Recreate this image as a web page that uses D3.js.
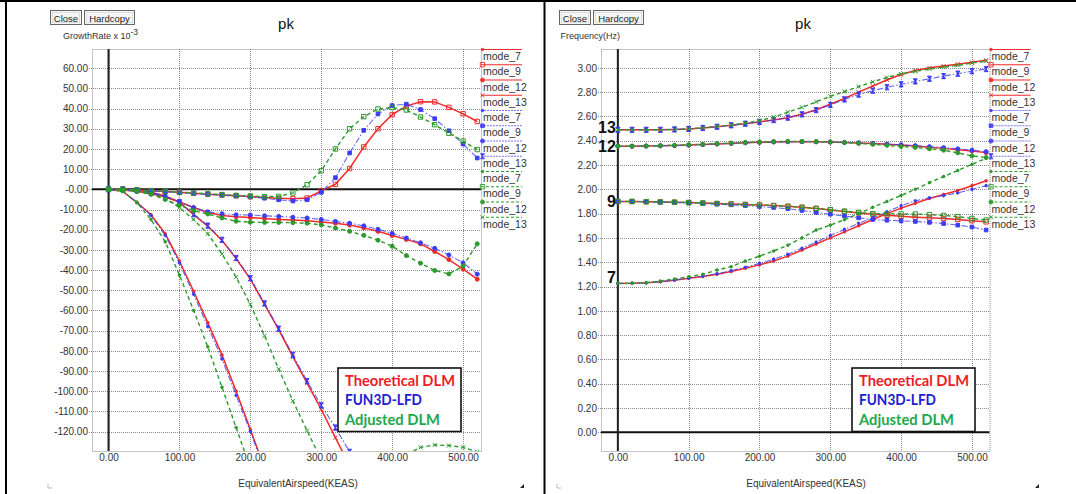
<!DOCTYPE html>
<html>
<head>
<meta charset="utf-8">
<script src="https://cdn.jsdelivr.net/npm/d3@7"></script>
<style>
  html, body { margin: 0; padding: 0; background: #fff; }
  svg { display: block; font-family: "Liberation Sans", Arial, sans-serif; }
</style>
</head>
<body>
<div id="chart"></div>
<script>
// equivalent airspeed of every computed point (KEAS)
const speeds = [0, 20, 40, 60, 80, 100, 120, 140, 160, 180, 200, 220, 240, 260,
  280, 300, 320, 340, 360, 380, 400, 420, 440, 460, 480, 500, 520];

// growth rate x 1e-3 (null = off the bottom of the plot)
const growthTheo7 = [0, -1, -6.4, -12.6, -22, -35.5, -50.5, -66, -82, -100, -119, -138, -157,
  null, null, null, null, null, null, null, null, null, null, null, null, null, null];
const growthTheo9 = [0, 0, -0.3, -0.7, -1.1, -1.5, -2.0, -2.4, -2.8, -3.2, -3.6, -4.0, -4.4, -4.7,
  -4.3, -0.8, 2.5, 10.3, 21, 30, 37, 41.2, 43.4, 43.3, 40.6, 37.4, 33.6];
const growthTheo12 = [0, -0.3, -1, -2.2, -3.8, -6.3, -9, -11.5, -13, -13.6, -14, -14.5, -14.9, -15.2,
  -15.6, -16.2, -16.8, -17.7, -19.1, -20.8, -22.9, -24.8, -27, -30.8, -34.8, -39.5, -44.5];
const growthTheo13 = [0, 0, -0.5, -1.5, -3.3, -6.3, -12.5, -18.2, -25.3, -34.3, -44.5, -57, -69.5,
  -83, -96, -109, -123, -137, -151, null, null, null, null, null, null, null, null];

const growthFun7 = [0, -1, -6.6, -13, -22.8, -36.5, -52, -68, -84, -102, -120, -139, -158,
  null, null, null, null, null, null, null, null, null, null, null, null, null, null];
const growthFun9 = [0, 0, -0.3, -0.8, -1.2, -1.7, -2.1, -2.5, -2.9, -3.3, -3.8, -4.4, -5.2, -5.8,
  -5.2, -1.5, 5.8, 18, 29.2, 37.3, 41.5, 42.2, 39.5, 35, 29, 22.4, 15.5];
const growthFun12 = [0, -0.3, -1, -2.1, -3.6, -6.1, -9.1, -11.1, -12.1, -12.6, -12.7, -13.1, -13.4,
  -13.8, -14.2, -14.9, -15.9, -16.8, -18.1, -19.8, -21.8, -24.1, -26.5, -29.2, -32.5, -36.4, -42];
const growthFun13 = [0, 0, -0.5, -1.5, -3.3, -6.3, -12.3, -18, -25, -34, -44, -56.5, -69, -82,
  -95, -107, -118, -130, -142, null, null, null, null, null, null, null, null];

const growthAdj7 = [0, -1, -6.5, -15, -26, -42.5, -60, -78, -98, -118, -138, -158,
  null, null, null, null, null, null, null, null, null, null, null, null, null, null, null];
const growthAdj9 = [0, 0, -0.3, -0.6, -1, -1.4, -1.8, -2.2, -2.6, -3, -3.3, -3.6, -3.5, -1.8,
  2.3, 9.2, 20, 30, 36, 39.8, 40.5, 39.3, 35.8, 32, 27.8, 23.9, 19.7];
const growthAdj12 = [0, -0.3, -1, -2.5, -5, -8, -10.5, -12.2, -14.2, -15.8, -16.3, -16.4, -16.4,
  -16.5, -16.8, -17.6, -19.2, -20.8, -22.8, -25.2, -28.2, -32.8, -36.6, -40.2, -41.9, -38, -27];
const growthAdj13 = [0, 0, -0.5, -2, -4.5, -9, -15, -22, -32, -43.5, -57, -72.5, -89, -104.8,
  -119.5, -134, -146, -153, -152, -145, -137, -131.5, -127.8, -126.6, -126.9, -127.8, -130];

// frequency (Hz)
const freqTheo7 = [1.225, 1.226, 1.23, 1.24, 1.252, 1.267, 1.282, 1.30, 1.323, 1.35, 1.378, 1.41,
  1.45, 1.50, 1.55, 1.60, 1.65, 1.70, 1.752, 1.80, 1.845, 1.885, 1.925, 1.958, 1.99, 2.03, 2.07];
const freqTheo9 = [1.90, 1.90, 1.898, 1.896, 1.894, 1.891, 1.887, 1.883, 1.879, 1.875, 1.871, 1.866,
  1.86, 1.852, 1.842, 1.83, 1.818, 1.806, 1.795, 1.786, 1.778, 1.771, 1.765, 1.76, 1.752, 1.742, 1.732];
const freqTheo12 = [2.355, 2.355, 2.356, 2.358, 2.36, 2.364, 2.368, 2.373, 2.378, 2.383, 2.387, 2.39,
  2.392, 2.392, 2.391, 2.389, 2.386, 2.382, 2.377, 2.371, 2.364, 2.356, 2.347, 2.337, 2.326, 2.315, 2.302];
const freqTheo13 = [2.49, 2.49, 2.49, 2.49, 2.493, 2.497, 2.505, 2.515, 2.527, 2.54, 2.555, 2.57,
  2.59, 2.618, 2.655, 2.70, 2.748, 2.80, 2.85, 2.90, 2.945, 2.978, 3.0, 3.015, 3.03, 3.045, 3.062];

const freqFun7 = [1.225, 1.226, 1.23, 1.24, 1.253, 1.268, 1.285, 1.305, 1.33, 1.358, 1.39, 1.425,
  1.465, 1.515, 1.565, 1.62, 1.67, 1.72, 1.765, 1.815, 1.865, 1.905, 1.93, 1.948, 1.97, 2.0, 2.03];
const freqFun9 = [1.90, 1.90, 1.898, 1.895, 1.892, 1.888, 1.883, 1.878, 1.872, 1.866, 1.858, 1.85,
  1.84, 1.826, 1.81, 1.795, 1.78, 1.765, 1.752, 1.745, 1.74, 1.735, 1.728, 1.718, 1.705, 1.69, 1.665];
const freqFun12 = [2.355, 2.355, 2.356, 2.358, 2.36, 2.364, 2.368, 2.373, 2.378, 2.383, 2.387, 2.39,
  2.392, 2.392, 2.391, 2.389, 2.386, 2.382, 2.377, 2.372, 2.366, 2.359, 2.351, 2.343, 2.333, 2.322, 2.31];
const freqFun13 = [2.49, 2.49, 2.49, 2.49, 2.493, 2.497, 2.505, 2.515, 2.527, 2.54, 2.555, 2.57,
  2.59, 2.617, 2.652, 2.695, 2.74, 2.78, 2.812, 2.84, 2.864, 2.888, 2.91, 2.932, 2.952, 2.972, 2.99];

const freqAdj7 = [1.226, 1.228, 1.231, 1.245, 1.262, 1.28, 1.30, 1.336, 1.363, 1.41, 1.45, 1.492,
  1.54, 1.60, 1.665, 1.705, 1.75, 1.80, 1.852, 1.90, 1.95, 2.00, 2.055, 2.105, 2.155, 2.205, 2.255];
const freqAdj9 = [1.90, 1.90, 1.898, 1.896, 1.894, 1.891, 1.887, 1.883, 1.879, 1.875, 1.871, 1.866,
  1.86, 1.852, 1.843, 1.832, 1.82, 1.81, 1.80, 1.798, 1.797, 1.797, 1.792, 1.785, 1.775, 1.76, 1.747];
const freqAdj12 = [2.355, 2.355, 2.357, 2.36, 2.363, 2.367, 2.371, 2.376, 2.381, 2.386, 2.39, 2.393,
  2.395, 2.395, 2.393, 2.39, 2.385, 2.378, 2.37, 2.362, 2.353, 2.345, 2.333, 2.322, 2.30, 2.275, 2.262];
const freqAdj13 = [2.49, 2.49, 2.49, 2.49, 2.493, 2.498, 2.506, 2.517, 2.53, 2.545, 2.565, 2.595,
  2.635, 2.675, 2.72, 2.765, 2.805, 2.845, 2.885, 2.92, 2.95, 2.97, 2.99, 3.005, 3.02, 3.04, 3.055];

const modes = [7, 9, 12, 13];
const sources = ['Theoretical DLM', 'FUN3D-LFD', 'Adjusted DLM'];
const growthTicks = [60, 50, 40, 30, 20, 10, 0, -10, -20, -30, -40, -50, -60, -70, -80, -90,
  -100, -110, -120];
const freqTicks = [3.0, 2.8, 2.6, 2.4, 2.2, 2.0, 1.8, 1.6, 1.4, 1.2, 1.0, 0.8, 0.6, 0.4, 0.2, 0.0];
const speedTicks = [0, 100, 200, 300, 400, 500];
// mode numbers written next to the frequency axis, and the frequency they sit at
const modeTags = ['13', '12', '9', '7'];
const modeTagFreqs = [2.51, 2.356, 1.905, 1.274];

const growthData = [
  [growthTheo7, growthTheo9, growthTheo12, growthTheo13],
  [growthFun7, growthFun9, growthFun12, growthFun13],
  [growthAdj7, growthAdj9, growthAdj12, growthAdj13]
];
const freqData = [
  [freqTheo7, freqTheo9, freqTheo12, freqTheo13],
  [freqFun7, freqFun9, freqFun12, freqFun13],
  [freqAdj7, freqAdj9, freqAdj12, freqAdj13]
];

const W = 1076, H = 494;
const srcStyle = [
  {color: '#ef2b2b', text: '#ee1c25', dash: null, width: 1.5, opacity: 1},
  {color: '#3c3cf4', text: '#2020d2', dash: '6,2,1.5,2', width: 1.1, opacity: 0.8},
  {color: '#2c9a2c', text: '#22a84b', dash: '4,3', width: 1.4, opacity: 1}
];

const svg = d3.select('#chart').append('svg')
  .attr('width', W).attr('height', H);
svg.append('rect').attr('width', W).attr('height', H).attr('fill', '#fff');

function markerPath(src, mode) {
  if (mode === 7) return circlePath(1.3);
  if (mode === 12) return circlePath(2.0);
  if (mode === 9) return src === 1 ? squarePath(1.8) : squarePath(2.2);
  if (src === 1) return 'M-2,-2.6H2L-2,2.6H2Z';
  return 'M-2,-2L2,2M-2,2L2,-2';
}
function circlePath(r) {
  return `M${r},0A${r},${r} 0 1,1 ${-r},0A${r},${r} 0 1,1 ${r},0Z`;
}
function squarePath(s) {
  return `M${-s},${-s}h${2 * s}v${2 * s}h${-2 * s}Z`;
}
function markerFill(src, mode) {
  if (mode === 9 && src !== 1) return 'none';
  if (mode === 13 && src !== 1) return 'none';
  return srcStyle[src].color;
}

function drawPanel(cfg) {
  const g = svg.append('g');
  const x = d3.scaleLinear().domain(cfg.xDomain).range([cfg.left, cfg.right]);
  const y = d3.scaleLinear().domain(cfg.yDomain).range([cfg.bottom, cfg.top]);
  const clipId = 'clip' + cfg.id;

  g.append('clipPath').attr('id', clipId).append('rect')
    .attr('x', cfg.left).attr('y', cfg.top)
    .attr('width', cfg.right - cfg.left).attr('height', cfg.bottom - cfg.top);

  // grid (dotted) and plot frame
  const grid = g.append('g').attr('stroke', '#8a8a8a').attr('stroke-width', 1)
    .attr('stroke-dasharray', '1,1');
  grid.selectAll('.hg').data(cfg.yTicks).join('line')
    .attr('x1', cfg.left - 3).attr('x2', cfg.right)
    .attr('y1', d => Math.round(y(d)) + 0.5).attr('y2', d => Math.round(y(d)) + 0.5);
  grid.selectAll('.vg').data(speedTicks).join('line')
    .attr('y1', cfg.top).attr('y2', cfg.bottom)
    .attr('x1', d => Math.round(x(d)) + 0.5).attr('x2', d => Math.round(x(d)) + 0.5);
  grid.append('rect')
    .attr('x', cfg.left + 0.5).attr('y', cfg.top + 0.5)
    .attr('width', cfg.right - cfg.left).attr('height', cfg.bottom - cfg.top)
    .attr('fill', 'none');

  // zero lines
  g.append('line').attr('x1', cfg.left).attr('x2', cfg.right)
    .attr('y1', y(0)).attr('y2', y(0)).attr('stroke', '#111').attr('stroke-width', 2);
  g.append('line').attr('x1', x(0)).attr('x2', x(0))
    .attr('y1', cfg.top).attr('y2', cfg.bottom).attr('stroke', '#222').attr('stroke-width', 2);

  // axes
  const yAxis = g.append('g').attr('transform', `translate(${cfg.left},0)`)
    .call(d3.axisLeft(y).tickValues(cfg.yTicks).tickSize(0).tickPadding(4)
      .tickFormat(cfg.yFormat));
  const xAxis = g.append('g').attr('transform', `translate(0,${cfg.bottom})`)
    .call(d3.axisBottom(x).tickValues(speedTicks).tickSize(0).tickPadding(3)
      .tickFormat(d => d.toFixed(2)));
  [yAxis, xAxis].forEach(a => {
    a.select('.domain').remove();
    a.selectAll('text').attr('fill', '#333').style('font-size', '10px');
  });

  // curves
  const line = d3.line()
    .defined(d => d[1] != null)
    .x(d => x(d[0])).y(d => y(d[1]));
  const curves = g.append('g').attr('clip-path', `url(#${clipId})`);
  cfg.data.forEach((bySrc, s) => {
    const st = srcStyle[s];
    bySrc.forEach((vals, m) => {
      const pts = speeds.map((v, i) => [v, vals[i]]);
      curves.append('path').attr('d', line(pts))
        .attr('fill', 'none').attr('stroke', st.color)
        .attr('stroke-width', st.width).attr('stroke-opacity', st.opacity)
        .attr('stroke-dasharray', st.dash);
      curves.selectAll(null).data(pts.filter(p => p[1] != null)).join('path')
        .attr('transform', p => `translate(${x(p[0])},${y(p[1])})`)
        .attr('d', markerPath(s, modes[m]))
        .attr('fill', markerFill(s, modes[m]))
        .attr('stroke', st.color).attr('stroke-width', 1);
    });
  });

  // mode legend on the right
  const ml = g.append('g');
  sources.forEach((name, s) => {
    const st = srcStyle[s];
    modes.forEach((mode, m) => {
      const k = s * modes.length + m;
      const ly = cfg.top + 0.5 + k * 15.25;
      ml.append('line').attr('x1', cfg.right).attr('x2', cfg.right + 41)
        .attr('y1', ly).attr('y2', ly)
        .attr('stroke', st.color).attr('stroke-width', s === 1 ? 1 : 1.2)
        .attr('stroke-opacity', s === 1 ? 0.7 : 1)
        .attr('stroke-dasharray', s === 0 ? null : (s === 1 ? '2,1' : '3,2'));
      ml.append('path').attr('transform', `translate(${cfg.right + 1.5},${ly})`)
        .attr('d', markerPath(s, mode)).attr('fill', markerFill(s, mode))
        .attr('stroke', st.color).attr('stroke-width', 1).attr('opacity', 0.9);
      ml.append('text').attr('x', cfg.right + 2).attr('y', ly + 10.5)
        .attr('fill', '#333').style('font-size', '10.5px').text('mode_' + mode);
    });
  });

  // source legend box
  const lb = g.append('g');
  lb.append('rect').attr('x', cfg.boxX).attr('y', 368)
    .attr('width', 123).attr('height', 63.5)
    .attr('fill', '#fff').attr('stroke', '#111').attr('stroke-width', 1.6);
  const boxWidths = [110, 77, 95];
  sources.forEach((name, s) => {
    lb.append('text').attr('x', cfg.boxX + 7).attr('y', 385.5 + s * 19.8)
      .attr('fill', srcStyle[s].text)
      .attr('textLength', boxWidths[s]).attr('lengthAdjust', 'spacingAndGlyphs')
      .style('font-family', 'Lato, "Open Sans", sans-serif')
      .style('font-weight', 'bold').style('font-size', '15px').text(name);
  });

  // title, axis titles
  g.append('text').attr('x', cfg.titleX).attr('y', 29).attr('text-anchor', 'middle')
    .attr('fill', '#111').style('font-size', '15px').text('pk');
  g.append('text').attr('x', cfg.xTitleX).attr('y', 487).attr('text-anchor', 'middle')
    .attr('fill', '#333').style('font-size', '10px').text('EquivalentAirspeed(KEAS)');
  const yt = g.append('text').attr('x', cfg.yTitleX).attr('y', 38.5)
    .attr('fill', '#333').style('font-size', '9px').text(cfg.yTitle);
  if (cfg.yTitleExp) {
    yt.append('tspan').attr('dy', -4).style('font-size', '8.5px').text(cfg.yTitleExp);
  }

  // buttons
  const btns = [['Close', 31], ['Hardcopy', 50]];
  let bx = cfg.btnX;
  btns.forEach(([label, w]) => {
    g.append('rect').attr('x', bx + 0.5).attr('y', 10.5).attr('width', w).attr('height', 14)
      .attr('fill', '#f6f6f6').attr('stroke', '#666');
    g.append('rect').attr('x', bx + 2.5).attr('y', 12.5).attr('width', w - 4).attr('height', 10)
      .attr('fill', 'none').attr('stroke', '#ddd');
    g.append('text').attr('x', bx + w / 2 + 0.5).attr('y', 21.5).attr('text-anchor', 'middle')
      .attr('fill', '#222').style('font-size', '9.5px').text(label);
    bx += w + 3;
  });

  // resize grips
  g.append('path').attr('d', `M${cfg.gripL},484v4h4`).attr('fill', 'none')
    .attr('stroke', '#bbb').attr('stroke-width', 1);
  g.append('path').attr('d', `M${cfg.gripR},488h-4l4,-4Z`).attr('fill', '#222');

  return {x, y, g};
}

drawPanel({
  id: 'L', left: 92, right: 481, top: 49, bottom: 451,
  xDomain: [-23.3, 525.3], yDomain: [-129.6, 69.5],
  yTicks: growthTicks, yFormat: d => d === 0 ? '-0.00' : d.toFixed(2),
  data: growthData, boxX: 338, titleX: 286, xTitleX: 298,
  yTitleX: 63, yTitle: 'GrowthRate x 10', yTitleExp: '-3',
  btnX: 50, gripL: 48, gripR: 524
});

const right = drawPanel({
  id: 'R', left: 601, right: 989.5, top: 49, bottom: 451,
  xDomain: [-23.8, 524.8], yDomain: [-0.154, 3.155],
  yTicks: freqTicks, yFormat: d => d.toFixed(2),
  data: freqData, boxX: 852, titleX: 803, xTitleX: 806,
  yTitleX: 560.5, yTitle: 'Frequency(Hz)', yTitleExp: null,
  btnX: 559, gripL: 557, gripR: 1039
});

// mode numbers beside the frequency axis
right.g.selectAll('.tag').data(modeTags).join('text')
  .attr('x', right.x(0) - 2).attr('y', (d, i) => right.y(modeTagFreqs[i]))
  .attr('dy', '0.36em').attr('text-anchor', 'end')
  .attr('fill', '#111').style('font-weight', 'bold').style('font-size', '16px')
  .text(d => d);

// window frame
svg.append('rect').attr('x', 0).attr('y', 0).attr('width', W).attr('height', 2).attr('fill', '#000');
svg.append('rect').attr('x', 5).attr('y', 0).attr('width', 2).attr('height', H).attr('fill', '#000');
svg.append('rect').attr('x', 543.5).attr('y', 0).attr('width', 2).attr('height', H).attr('fill', '#000');
</script>
</body>
</html>
